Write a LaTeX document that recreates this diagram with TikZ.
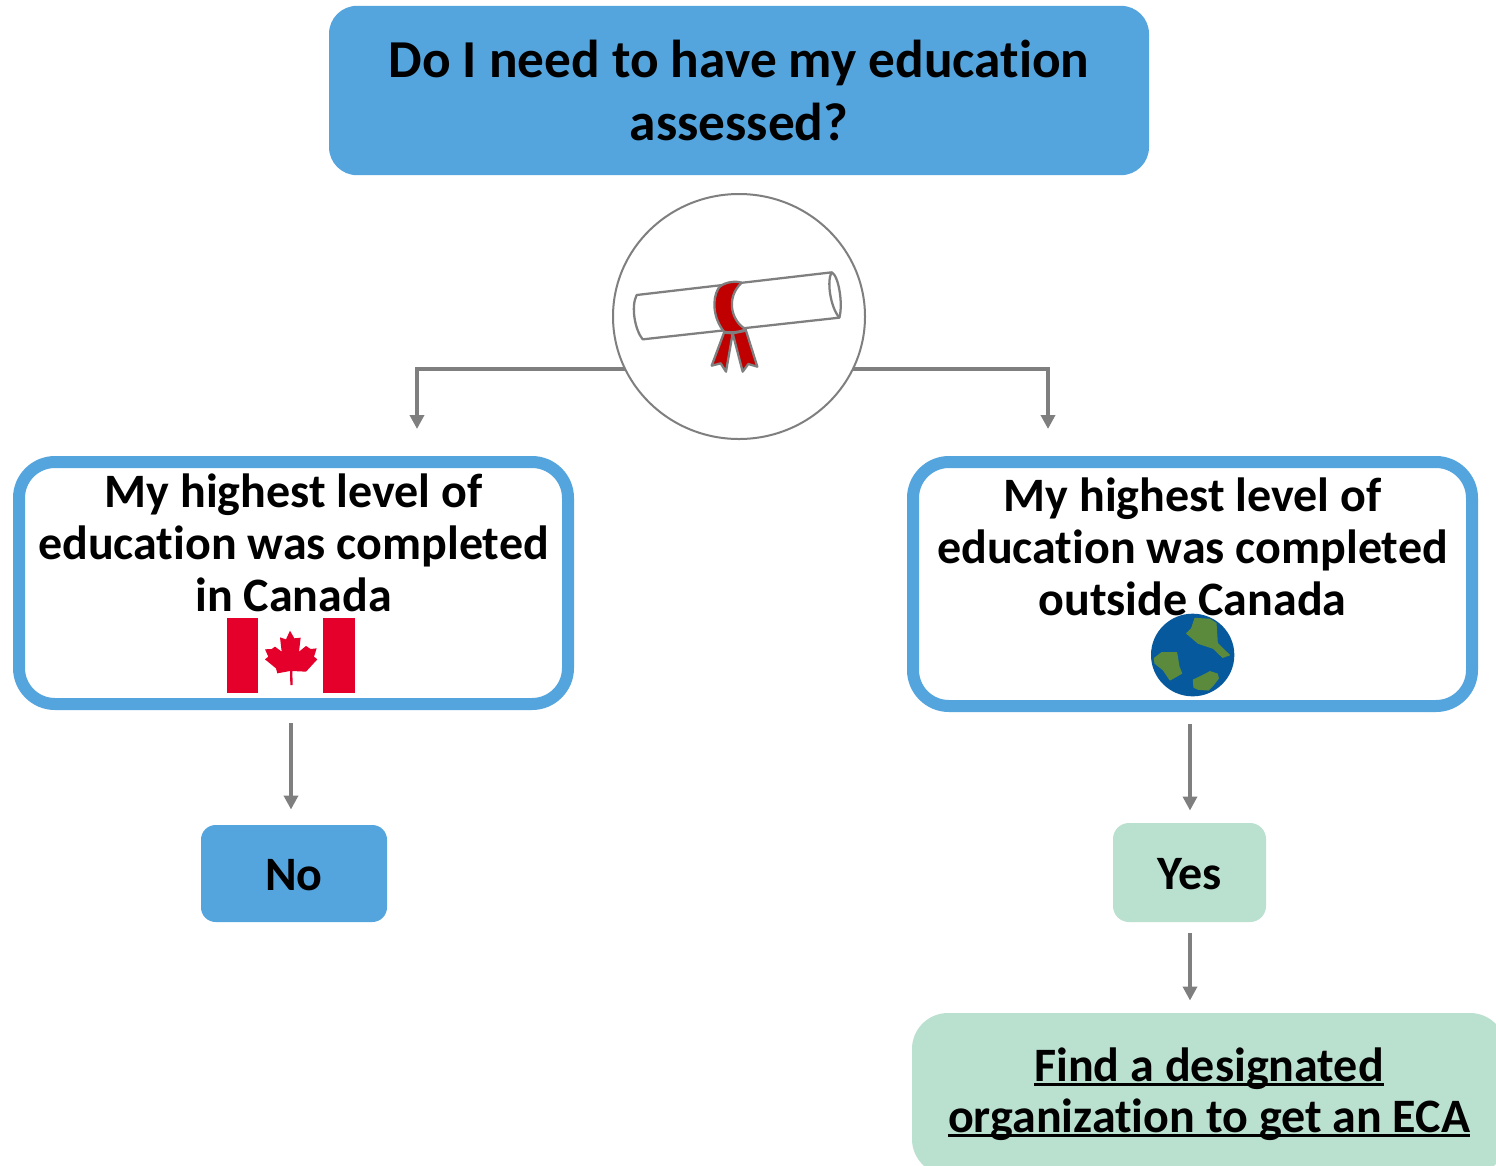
\documentclass[tikz,border=0pt]{standalone}
\usepackage{fontspec}
\setmainfont[Ligatures=NoCommon]{Carlito}
\usetikzlibrary{arrows.meta,shapes.geometric}
\definecolor{skyblue}{HTML}{54A4DE}
\definecolor{mint}{HTML}{BAE0D0}
\definecolor{conn}{HTML}{7F7F7F}
\definecolor{flagred}{HTML}{E4002B}
\definecolor{ocean}{HTML}{05599C}
\definecolor{land}{HTML}{5B8A3C}
\definecolor{ribbon}{HTML}{C00000}
\newsavebox{\ulinebox}
\newcommand{\tightul}[1]{\sbox{\ulinebox}{#1}\rlap{\rule[-3.2pt]{\wd\ulinebox}{1.9pt}}\usebox{\ulinebox}}
\tikzset{
  every node/.style={inner sep=0pt,outer sep=0pt,align=center},
  titlebox/.style={fill=skyblue,rounded corners=21pt,font=\bfseries\fontsize{40}{47.25}\selectfont},
  framebox/.style={draw=skyblue,line width=9pt,fill=white,rounded corners=27pt,font=\bfseries\fontsize{36}{39}\selectfont},
  answerblue/.style={fill=skyblue,rounded corners=11pt,font=\bfseries\fontsize{36}{39}\selectfont},
  answermint/.style={fill=mint,rounded corners=12pt,font=\bfseries\fontsize{36}{39}\selectfont},
  ecabox/.style={fill=mint,rounded corners=27pt,font=\bfseries\fontsize{36}{38.25}\selectfont},
  flow/.style={draw=conn,line width=3pt,-{Triangle[length=10.5pt,width=10.5pt]}},
  art/.style={draw=conn,line width=1.7pt,line join=round},
  landmass/.style={fill=land,draw=land,line width=0.8pt,line join=round},
}
\begin{document}
\begin{tikzpicture}[x=0.75pt,y=-0.75pt]
\clip (0,0) rectangle (1496,1165);
\fill[white] (0,0) rectangle (1496,1165);
% boxes
\node[titlebox,minimum width=615pt,minimum height=127pt] (question) at (739,90.5) {Do I need to have my education\\assessed?};
\node[draw=conn,line width=1.5pt,fill=white,ellipse,minimum width=189pt,minimum height=183.75pt] (seal) at (739,316.5) {};
\node[framebox,minimum width=411.75pt,minimum height=181.5pt] (inside) at (293.5,583) {My highest level of\\education was completed\\in Canada\\[21pt]\mbox{}};
\node[framebox,minimum width=419.25pt,minimum height=183pt] (outside) at (1192.5,584) {My highest level of\\education was completed\\outside Canada\\[16.5pt]\mbox{}};
\node[answerblue,minimum width=139.5pt,minimum height=72.75pt] (no) at (294,873.5) {\rule{0pt}{26pt}No};
\node[answermint,minimum width=114.75pt,minimum height=74.25pt] (yes) at (1189.5,872.5) {\rule{0pt}{26pt}Yes};
\node[ecabox,minimum width=445.5pt,minimum height=121.5pt] (eca) at (1209,1094) {\tightul{Find a designated}\\\tightul{organization to get an ECA}};
% connectors
\coordinate (leftdrop) at (417,429);
\coordinate (rightdrop) at (1048,429);
\draw[flow] (seal.205.5) -| (leftdrop);
\draw[flow] (seal.-25.5) -| (rightdrop);
\draw[flow] ([shift={(-2.5,19)}]inside.south) -- ([shift={(-3,-15.5)}]no.north);
\draw[flow] ([shift={(-2.5,18)}]outside.south) -- ([shift={(0.5,-12.5)}]yes.north);
\draw[flow] ([shift={(0.5,11)}]yes.south) -- ([shift={(-19,-12.5)}]eca.north);
% diploma
\begin{scope}[shift={(450pt,-142.5pt)},x=0.25pt,y=-0.25pt]
\draw[art] (110,315) -- (695,247) .. controls (680,270) and (690,350) .. (718,383) -- (128,448) .. controls (105,420) and (92,350) .. cycle;
\draw[art] (695,247) .. controls (715,255) and (730,340) .. (718,383);
\draw[art,fill=ribbon] (372,428) -- (398,430) -- (378,545) -- (362,520) -- (335,527) -- cycle;
\draw[art,fill=ribbon] (398,430) -- (438,422) -- (472,530) -- (445,522) -- (428,545) -- cycle;
\draw[art,fill=ribbon] (425,278) .. controls (400,270) and (365,280) .. (355,295) .. controls (335,330) and (340,385) .. (372,425) .. controls (395,430) and (420,425) .. (438,418) .. controls (395,395) and (375,325) .. cycle;
\end{scope}
% flag
\fill[white] (227,618) rectangle (355,693);
\fill[flagred] (227,618) rectangle (258,693);
\fill[flagred] (323,618) rectangle (355,693);
\begin{scope}[shift={(150pt,-450pt)},x=0.25pt,y=-0.25pt]
\fill[flagred] (270,92) -- (283,115) -- (302,113) -- (297,155) -- (318,138) -- (332,147) -- (350,145) -- (342,170) -- (352,178) -- (318,215) -- (277,213) -- (278,255) -- (271,255) -- (270,213) -- (232,220) -- (228,205) -- (195,178) -- (205,170) -- (195,148) -- (215,147) -- (225,140) -- (245,155) -- (240,112) -- (258,118) -- cycle;
\end{scope}
% globe
\begin{scope}[shift={(847.5pt,-450pt)},x=0.25pt,y=-0.25pt]
\fill[ocean] (188,165) ellipse [x radius=125,y radius=124];
\path[landmass] (195,55) -- (240,58) -- (258,70) -- (262,130) -- (298,165) -- (278,172) -- (250,145) -- (205,130) -- (170,100) -- (185,85) -- cycle;
\path[landmass] (95,158) -- (140,158) -- (147,200) -- (155,220) -- (120,240) -- (100,210) -- (75,190) -- (73,175) -- cycle;
\path[landmass] (190,240) -- (215,228) -- (240,215) -- (262,222) -- (265,235) -- (250,255) -- (235,270) -- (205,268) -- (192,262) -- cycle;
\end{scope}
\end{tikzpicture}
\end{document}
